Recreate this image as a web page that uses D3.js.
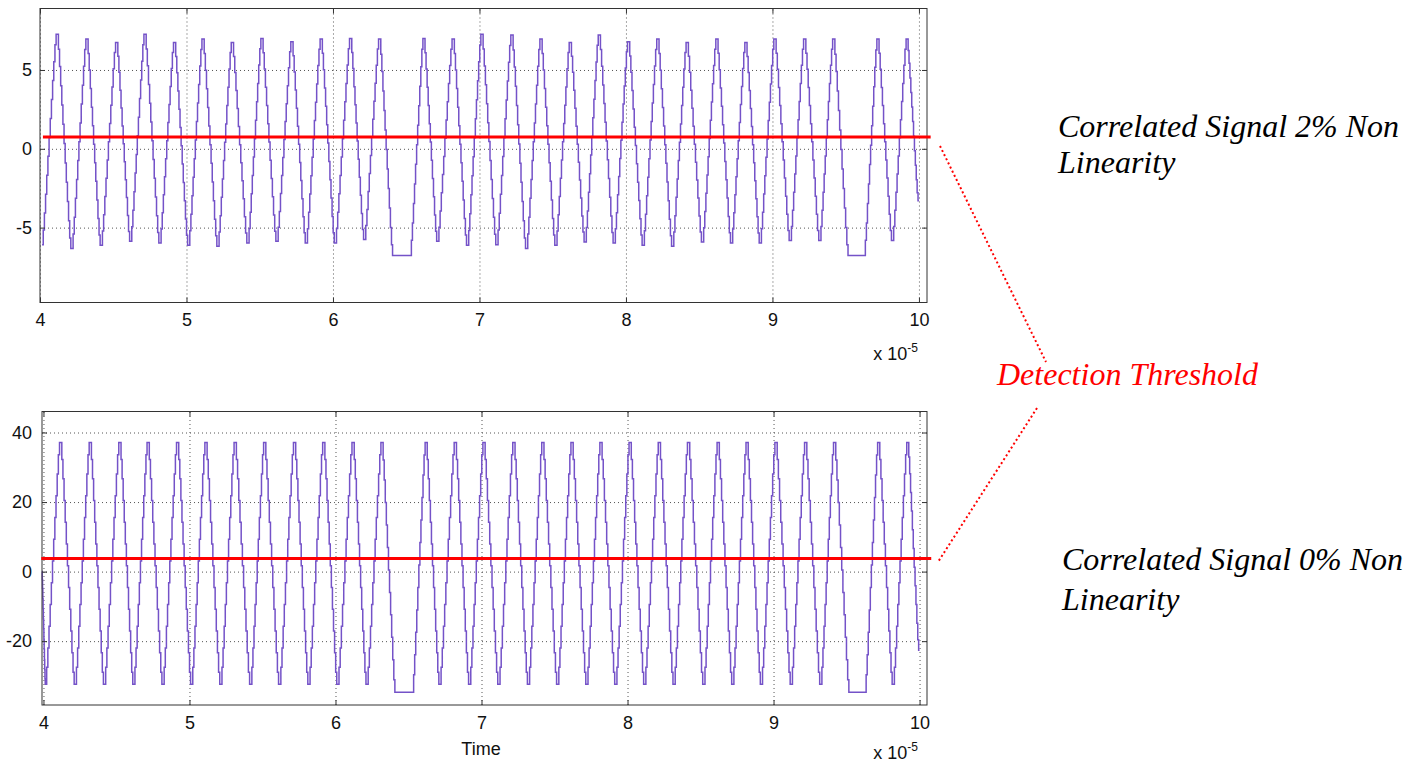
<!DOCTYPE html>
<html>
<head>
<meta charset="utf-8">
<script src="https://cdn.jsdelivr.net/npm/d3@7"></script>
<style>
  html, body { margin: 0; padding: 0; background: #fff; }
  #chart { width: 1410px; height: 766px; }
  .tick text { font-family: "Liberation Sans", Arial, sans-serif; font-size: 18px; fill: #111; }
  .note { font-family: "Liberation Serif", "Times New Roman", serif; font-style: italic; font-size: 32px; }
</style>
</head>
<body>
<div id="chart"></div>
<script>
// tick values
const xTicks = [4, 5, 6, 7, 8, 9, 10];
const yTicksTop = [-5, 0, 5];
const yTicksBottom = [-20, 0, 20, 40];

// turning points of the waveform (time in units of 1e-5 s)
const turnTimes = [4.014, 4.118, 4.218, 4.321, 4.418, 4.524, 4.619, 4.717, 4.819, 4.919,
  5.015, 5.113, 5.215, 5.313, 5.420, 5.515, 5.618, 5.720, 5.818, 5.920,
  6.016, 6.121, 6.216, 6.319, 6.414, 6.528, 6.621, 6.715, 6.821, 6.919,
  7.017, 7.119, 7.222, 7.322, 7.420, 7.522, 7.620, 7.722, 7.818, 7.920,
  8.018, 8.118, 8.218, 8.319, 8.418, 8.523, 8.621, 8.721, 8.819, 8.917,
  9.017, 9.122, 9.220, 9.324, 9.418, 9.524, 9.627, 9.720, 9.820, 9.920, 10.0];

// correlated signal, 2% non linearity (values at the turning points)
const signal2pct = [-6.08, 7.26, -6.33, 6.96, -6.12, 6.75, -5.87, 7.26, -5.97, 6.75,
  -6.12, 6.96, -6.18, 6.75, -5.97, 7.0, -5.87, 6.79, -5.97, 6.96,
  -5.97, 7.0, -5.76, 6.96, -6.77, -6.77, 7.0, -5.87, 6.96, -6.12,
  7.26, -6.08, 7.22, -6.33, 6.96, -6.12, 6.75, -5.91, 7.22, -5.97,
  6.79, -6.12, 6.96, -6.18, 6.75, -5.91, 6.96, -5.97, 6.75, -5.97,
  6.96, -5.82, 6.96, -5.82, 6.96, -6.77, -6.77, 6.96, -5.82, 6.96, -3.3];

// correlated signal, 0% non linearity
const signal0pct = [-32.4, 37.1, -32.4, 37.1, -32.4, 37.1, -32.4, 37.1, -32.4, 37.1,
  -32.4, 37.1, -32.4, 37.1, -32.4, 37.1, -32.4, 37.1, -32.4, 37.1,
  -32.4, 37.1, -32.4, 37.1, -34.7, -34.7, 37.1, -32.4, 37.1, -32.4,
  37.1, -32.4, 37.1, -32.4, 37.1, -32.4, 37.1, -32.4, 37.1, -32.4,
  37.1, -32.4, 37.1, -32.4, 37.1, -32.4, 37.1, -32.4, 37.1, -32.4,
  37.1, -32.4, 37.1, -32.4, 37.1, -34.7, -34.7, 37.1, -32.4, 37.1, -22.6];
const signal0Start = [3.99, 0];

// held levels between two turning points (fraction of the swing), read from a zoomed half cycle
const stepLevels = [0, 0.07, 0.15, 0.24, 0.33, 0.42, 0.51, 0.6, 0.69, 0.78, 0.87, 0.95, 1];

const thresholds = [0.75, 3.74];

document.addEventListener("DOMContentLoaded", () => {
  const svg = d3.select("#chart")
    .append("svg")
    .attr("width", 1410)
    .attr("height", 766);

  const fmt = d => String(d);   // plain hyphen minus, like the original

  function stairs(times, values) {
    const pts = [];
    const n = stepLevels.length;
    for (let i = 0; i < times.length - 1; i++) {
      const t0 = times[i], t1 = times[i + 1], v0 = values[i], v1 = values[i + 1];
      stepLevels.forEach((f, k) => pts.push([t0 + (t1 - t0) * k / n, v0 + (v1 - v0) * f]));
    }
    pts.push([times[times.length - 1], values[values.length - 1]]);
    return pts;
  }

  function panel(opt) {
    const x = d3.scaleLinear().domain(opt.xDomain).range([opt.left, opt.right]);
    const y = d3.scaleLinear().domain(opt.yDomain).range([opt.bottom, opt.top]);
    const w = opt.right - opt.left, h = opt.bottom - opt.top;
    const g = svg.append("g");

    // dotted grid
    g.append("g")
      .attr("transform", `translate(0,${opt.bottom})`)
      .call(d3.axisBottom(x).tickValues(xTicks).tickSize(-h).tickFormat(""))
      .call(a => a.select(".domain").remove())
      .selectAll("line").attr("stroke", "#555").attr("stroke-dasharray", "1,3");
    g.append("g")
      .attr("transform", `translate(${opt.left},0)`)
      .call(d3.axisLeft(y).tickValues(opt.yTicks).tickSize(-w).tickFormat(""))
      .call(a => a.select(".domain").remove())
      .selectAll("line").attr("stroke", "#555").attr("stroke-dasharray", "1,3");

    // signal
    const line = d3.line()
      .x(d => x(d[0]))
      .y(d => y(d[1]))
      .curve(d3.curveStepAfter);
    g.append("path")
      .datum(stairs(opt.times, opt.values))
      .attr("fill", "none")
      .attr("stroke", "#7452c8")
      .attr("stroke-width", 1.5)
      .attr("d", line);

    // frame
    g.append("rect")
      .attr("x", opt.left).attr("y", opt.top)
      .attr("width", w).attr("height", h)
      .attr("fill", "none").attr("stroke", "#333");

    // inward ticks with labels
    g.append("g")
      .attr("transform", `translate(0,${opt.bottom})`)
      .call(d3.axisBottom(x).tickValues(xTicks).tickSize(-5).tickPadding(11).tickFormat(fmt));
    g.append("g")
      .attr("transform", `translate(${opt.left},0)`)
      .call(d3.axisLeft(y).tickValues(opt.yTicks).tickSize(-5).tickPadding(opt.yPad).tickFormat(fmt));
    g.append("g")
      .attr("transform", `translate(0,${opt.top})`)
      .call(d3.axisTop(x).tickValues(xTicks).tickSize(-5).tickFormat(""));
    g.append("g")
      .attr("transform", `translate(${opt.right},0)`)
      .call(d3.axisRight(y).tickValues(opt.yTicks).tickSize(-5).tickFormat(""));
    g.selectAll(".domain").remove();
    g.selectAll(".tick line").filter(function () { return !this.getAttribute("stroke-dasharray"); })
      .attr("stroke", "#333");

    // threshold
    g.append("line")
      .attr("x1", x(opt.thrFrom)).attr("x2", x(10.08))
      .attr("y1", y(opt.threshold)).attr("y2", y(opt.threshold))
      .attr("stroke", "#ff0000").attr("stroke-width", 3);

    // exponent label
    const ex = g.append("text")
      .attr("x", opt.right - 9)
      .attr("y", opt.expY)
      .attr("text-anchor", "end")
      .style("font-family", "Liberation Sans, Arial, sans-serif")
      .style("font-size", "18px")
      .attr("fill", "#111");
    ex.append("tspan").text("x 10");
    ex.append("tspan").attr("dy", -8).style("font-size", "12px").text("-5");
    return { x, y };
  }

  panel({
    left: 40, right: 927, top: 8.5, bottom: 302.5,
    xDomain: [4, 10.055], yDomain: [-9.75, 8.9],
    yTicks: yTicksTop, yPad: 8,
    times: turnTimes, values: signal2pct,
    threshold: thresholds[0], thrFrom: 4.02, expY: 360
  });

  panel({
    left: 42, right: 927, top: 411.5, bottom: 705,
    xDomain: [3.99, 10.051], yDomain: [-38.36, 46.04],
    yTicks: yTicksBottom, yPad: 10,
    times: [signal0Start[0]].concat(turnTimes), values: [signal0Start[1]].concat(signal0pct),
    threshold: thresholds[1], thrFrom: 3.985, expY: 759
  });

  svg.append("text")
    .attr("x", 481).attr("y", 755)
    .attr("text-anchor", "middle")
    .style("font-family", "Liberation Sans, Arial, sans-serif")
    .style("font-size", "18px")
    .attr("fill", "#111")
    .text("Time");

  // annotations
  const notes = [
    { x: 1058, y: 137, t: "Correlated Signal 2% Non", c: "#000" },
    { x: 1058, y: 173, t: "Linearity", c: "#000" },
    { x: 997, y: 385, t: "Detection Threshold", c: "#ff0000" },
    { x: 1062, y: 570, t: "Correlated Signal 0% Non", c: "#000" },
    { x: 1062, y: 610, t: "Linearity", c: "#000" }
  ];
  svg.selectAll(".note")
    .data(notes)
    .enter()
    .append("text")
    .attr("class", "note")
    .attr("x", d => d.x)
    .attr("y", d => d.y)
    .attr("fill", d => d.c)
    .text(d => d.t);

  svg.append("line")
    .attr("x1", 940).attr("y1", 146).attr("x2", 1046).attr("y2", 362)
    .attr("stroke", "#ff0000").attr("stroke-width", 2).attr("stroke-dasharray", "2,2.6");
  svg.append("line")
    .attr("x1", 1037).attr("y1", 408).attr("x2", 938).attr("y2", 562)
    .attr("stroke", "#ff0000").attr("stroke-width", 2).attr("stroke-dasharray", "2,2.6");
});
</script>
</body>
</html>
